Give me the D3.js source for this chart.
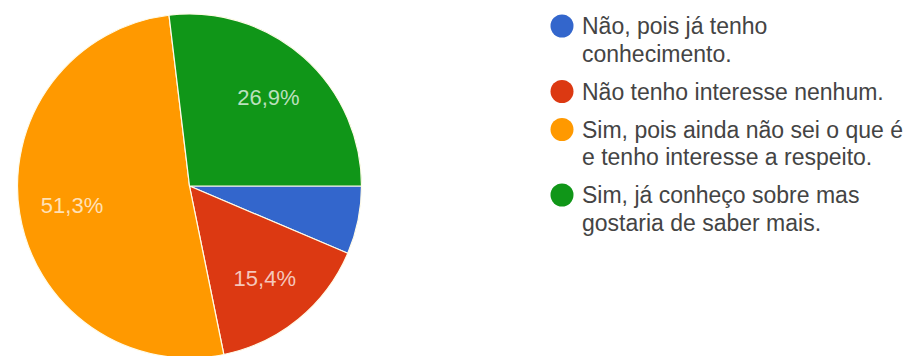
<!DOCTYPE html>
<html><head><meta charset="utf-8">
<script src="https://cdn.jsdelivr.net/npm/d3@7"></script>
<style>body{margin:0;background:#fff;overflow:hidden}</style>
</head><body>
<svg id="chart" width="920" height="356"></svg>
<script>
const categories = [
  "Não, pois já tenho\nconhecimento.",
  "Não tenho interesse nenhum.",
  "Sim, pois ainda não sei o que é\ne tenho interesse a respeito.",
  "Sim, já conheço sobre mas\ngostaria de saber mais."
];
const values = [6.4, 15.4, 51.3, 26.9];
const valueLabels = ["6,4%", "15,4%", "51,3%", "26,9%"];
const colors = ["#3366cc", "#dc3912", "#ff9900", "#109618"];

const svg = d3.select("#chart");
const cx = 189.5, cy = 186, R = 172, labelR = 119;

const pie = d3.pie().sort(null).value(d => d)
  .startAngle(Math.PI / 2).endAngle(Math.PI / 2 + 2 * Math.PI);
const arcs = pie(values);
const arc = d3.arc().innerRadius(0).outerRadius(R);
const labelArc = d3.arc().innerRadius(labelR).outerRadius(labelR);
const color = d3.scaleOrdinal().domain(d3.range(values.length)).range(colors);

const g = svg.append("g").attr("transform", `translate(${cx},${cy})`);
g.selectAll("path.slice").data(arcs).join("path")
  .attr("class", "slice")
  .attr("d", arc)
  .attr("fill", (d, i) => color(i))
  .attr("stroke", "#fffbe8")
  .attr("stroke-width", 1.2);

g.selectAll("text.pct").data(arcs.filter(d => d.value >= 10)).join("text")
  .attr("class", "pct")
  .attr("transform", d => `translate(${labelArc.centroid(d)})`)
  .attr("text-anchor", "middle")
  .attr("dy", "0.36em")
  .attr("font-family", "Liberation Sans, Arial, sans-serif")
  .attr("font-size", 22)
  .attr("fill", "#ffffff")
  .attr("fill-opacity", 0.72)
  .text(d => valueLabels[d.index]);

// Legend
const lineH = 27.5, gap = 10.5;
let y = 26;
const legend = svg.append("g");
categories.forEach((c, i) => {
  const lines = c.split("\n");
  const item = legend.append("g").attr("transform", `translate(0,${y})`);
  item.append("circle").attr("cx", 562).attr("cy", 0).attr("r", 11.5).attr("fill", color(i));
  const t = item.append("text")
    .attr("x", 582).attr("y", 8)
    .attr("font-family", "Liberation Sans, Arial, sans-serif")
    .attr("font-size", 23)
    .attr("fill", "#444444");
  lines.forEach((l, j) => {
    t.append("tspan").attr("x", 582).attr("dy", j === 0 ? 0 : lineH).text(l);
  });
  y += lines.length * lineH + gap;
});
</script>
</body></html>
